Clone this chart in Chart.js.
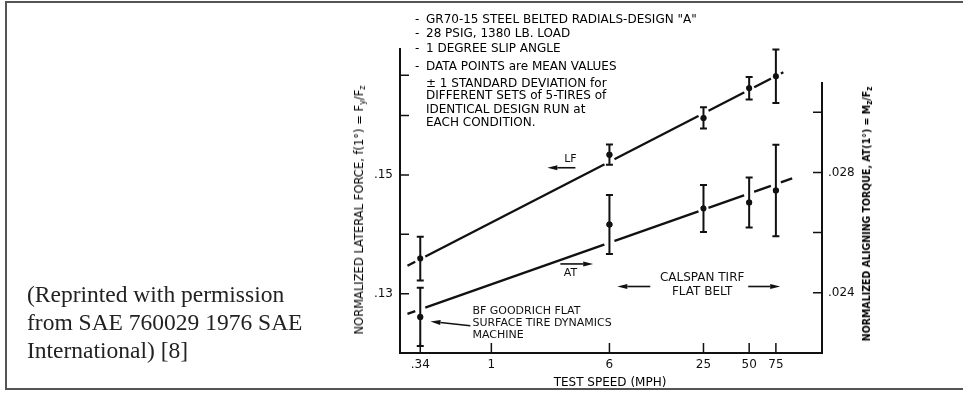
<!DOCTYPE html>
<html>
<head>
<meta charset="utf-8">
<script src="https://cdn.jsdelivr.net/npm/chart.js@4/dist/chart.umd.min.js"></script>
<style>
  html, body { margin: 0; padding: 0; background: #fff; }
  #wrap { position: relative; width: 963px; height: 393px; overflow: hidden; }
  #frame { position: absolute; left: 5px; top: 1px; width: 1000px; height: 389px; border: 2px solid #555; box-sizing: border-box; }
  #chart { position: absolute; left: 0; top: 0; }
  .cap { position: absolute; left: 27px; top: 280px; font-family: "Liberation Serif", "Times New Roman", serif; font-size: 23.5px; line-height: 28px; color: #222; white-space: nowrap; }
  .t { position: absolute; font-family: "DejaVu Sans", sans-serif; font-size: 12px; color: #000; white-space: nowrap; line-height: 12px; }
  .rot { transform-origin: 0 0; transform: rotate(-90deg) translate(-50%, -50%); }
  .t sub { font-size: 8px; vertical-align: -2px; }
</style>
</head>
<body>
<div id="wrap">
  <div id="frame"></div>
  <canvas id="chart" width="963" height="393"></canvas>

  <div class="cap">(Reprinted with permission<br>from SAE 760029 1976 SAE<br>International) [8]</div>

  <!-- notes at top of the plot -->
  <div class="t" style="left:415px; top:13px;">-</div>
  <div class="t" style="left:426px; top:13px;">GR70-15 STEEL BELTED RADIALS-DESIGN "A"</div>
  <div class="t" style="left:415px; top:27px;">-</div>
  <div class="t" style="left:426px; top:27px;">28 PSIG, 1380 LB. LOAD</div>
  <div class="t" style="left:415px; top:42px;">-</div>
  <div class="t" style="left:426px; top:42px;">1 DEGREE SLIP ANGLE</div>
  <div class="t" style="left:415px; top:60px;">-</div>
  <div class="t" style="left:426px; top:60px;">DATA POINTS are MEAN VALUES</div>
  <div class="t" style="left:426px; top:77px;">± 1 STANDARD DEVIATION for</div>
  <div class="t" style="left:426px; top:89px;">DIFFERENT SETS of 5-TIRES of</div>
  <div class="t" style="left:426px; top:103px;">IDENTICAL DESIGN RUN at</div>
  <div class="t" style="left:426px; top:116px;">EACH CONDITION.</div>

  <!-- axis titles -->
  <div class="t rot" style="left:361px; top:210px; font-size:11.5px;">NORMALIZED LATERAL FORCE, f(1°) = F<sub>y</sub>/F<sub>z</sub></div>
  <div class="t rot" style="left:868px; top:214px; font-family:'DejaVu Sans Condensed','DejaVu Sans',sans-serif; font-weight:bold; font-size:10.5px;">NORMALIZED ALIGNING TORQUE, AT(1°) = M<sub>z</sub>/F<sub>z</sub></div>
  <div class="t" style="left:610px; top:376px; transform:translateX(-50%);">TEST SPEED (MPH)</div>
</div>

<script>
// test speeds (MPH)
const speeds = [0.34, 6, 25, 50, 75];
// lateral force f(1°) : mean and 1 standard deviation
const lfMean = [0.1359, 0.1534, 0.1596, 0.1646, 0.1666];
const lfSd = [0.0037, 0.0017, 0.0018, 0.0019, 0.0045];
// aligning torque AT(1°) : mean and 1 standard deviation
const atMean = [0.0232, 0.02627, 0.0268, 0.0270, 0.0274];
const atSd = [0.00097, 0.00098, 0.00078, 0.00083, 0.00152];
// fitted lines (end points)
const lfFitSpeed = [0.28, 84];
const lfFit = [0.1347, 0.1673];
const atFitSpeed = [0.28, 96];
const atFit = [0.0233, 0.0278];
// ticks
const xTicks = [0.34, 1, 6, 25, 50, 75];
const xTickLabels = ['.34', '1', '6', '25', '50', '75'];
const lfTicks = [0.13, 0.14, 0.15, 0.16, 0.1668];
const lfTickLabels = ['.13', '', '.15', '', ''];
const atTicks = [0.024, 0.026, 0.028, 0.030];
const atTickLabels = ['.024', '', '.028', ''];
const atAxisTop = 0.031;

const INK = '#111';
const FONT = '"DejaVu Sans", sans-serif';

// annotations in data units (x: MPH, y: lateral force axis)
const notes = [
    { text: 'LF', x: 3.32, y: 0.1527 },
    { text: 'AT', x: 3.32, y: 0.1334 },
    { text: 'CALSPAN TIRF', x: 24.5, y: 0.1327, size: 12 },
    { text: 'FLAT BELT', x: 24.5, y: 0.1303, size: 12 },
    { text: 'BF GOODRICH FLAT', x: 0.75, y: 0.1271, align: 'left' },
    { text: 'SURFACE TIRE DYNAMICS', x: 0.75, y: 0.1250, align: 'left' },
    { text: 'MACHINE', x: 0.75, y: 0.1230, align: 'left' }
];
const arrows = [
    { x1: 3.58, y1: 0.1512, x2: 2.34, y2: 0.1512 },
    { x1: 2.85, y1: 0.1350, x2: 4.69, y2: 0.1350 },
    { x1: 11.15, y1: 0.1312, x2: 6.76, y2: 0.1312 },
    { x1: 49.3, y1: 0.1312, x2: 80.1, y2: 0.1312 },
    { x1: 0.727, y1: 0.1246, x2: 0.397, y2: 0.1253 }
];

function toPoints(xs, ys) {
    return xs.map((x, i) => ({ x: x, y: ys[i] }));
}

function drawArrow(ctx, x1, y1, x2, y2) {
    const a = Math.atan2(y2 - y1, x2 - x1);
    const hl = 10, hw = 2.5;
    const bx = x2 - Math.cos(a) * hl, by = y2 - Math.sin(a) * hl;
    ctx.beginPath();
    ctx.moveTo(x1, y1);
    ctx.lineTo(bx, by);
    ctx.lineWidth = 1.6;
    ctx.stroke();
    ctx.beginPath();
    ctx.moveTo(x2, y2);
    ctx.lineTo(bx + hw * Math.sin(a), by - hw * Math.cos(a));
    ctx.lineTo(bx - hw * Math.sin(a), by + hw * Math.cos(a));
    ctx.closePath();
    ctx.fill();
}

// y pixel of a fitted line at a given x pixel
function fitY(meta, px) {
    const p0 = meta.data[0], p1 = meta.data[1];
    return p0.y + (p1.y - p0.y) * (px - p0.x) / (p1.x - p0.x);
}

const extras = {
    id: 'extras',
    afterDatasetsDraw(chart) {
        const { ctx, chartArea, scales } = chart;
        const x = scales.x, yL = scales.yL, yR = scales.yR;
        ctx.save();

        // small breaks in the fitted lines at each test speed
        ctx.strokeStyle = '#fff';
        ctx.lineWidth = 5;
        [0, 1].forEach(d => {
            const meta = chart.getDatasetMeta(d);
            speeds.forEach(s => {
                const px = x.getPixelForValue(s);
                ctx.beginPath();
                ctx.moveTo(px - 5, fitY(meta, px - 5));
                ctx.lineTo(px + 5, fitY(meta, px + 5));
                ctx.stroke();
            });
        });

        ctx.strokeStyle = INK;
        ctx.fillStyle = INK;
        ctx.lineCap = 'butt';

        // error bars
        const bars = [[lfMean, lfSd, yL], [atMean, atSd, yR]];
        ctx.lineWidth = 2;
        bars.forEach(([mean, sd, ys]) => {
            speeds.forEach((s, i) => {
                const px = x.getPixelForValue(s);
                const top = ys.getPixelForValue(mean[i] + sd[i]);
                const bot = ys.getPixelForValue(mean[i] - sd[i]);
                ctx.beginPath();
                ctx.moveTo(px, top); ctx.lineTo(px, bot);
                ctx.moveTo(px - 3.5, top); ctx.lineTo(px + 3.5, top);
                ctx.moveTo(px - 3.5, bot); ctx.lineTo(px + 3.5, bot);
                ctx.stroke();
                ctx.beginPath();
                ctx.arc(px, ys.getPixelForValue(mean[i]), 3, 0, Math.PI * 2);
                ctx.fill();
            });
        });

        // inward tick marks
        ctx.lineWidth = 1.5;
        ctx.beginPath();
        xTicks.forEach(v => {
            const px = x.getPixelForValue(v);
            ctx.moveTo(px, chartArea.bottom); ctx.lineTo(px, chartArea.bottom - 10);
        });
        lfTicks.forEach(v => {
            const py = yL.getPixelForValue(v);
            ctx.moveTo(chartArea.left, py); ctx.lineTo(chartArea.left + 9, py);
        });
        atTicks.forEach(v => {
            const py = yR.getPixelForValue(v);
            ctx.moveTo(chartArea.right, py); ctx.lineTo(chartArea.right - 9, py);
        });
        ctx.stroke();

        // right axis line
        ctx.lineWidth = 2;
        ctx.beginPath();
        ctx.moveTo(chartArea.right, yR.getPixelForValue(atAxisTop));
        ctx.lineTo(chartArea.right, chartArea.bottom);
        ctx.stroke();

        // labels and arrows
        ctx.textBaseline = 'middle';
        notes.forEach(n => {
            ctx.font = (n.size || 11) + 'px ' + FONT;
            ctx.textAlign = n.align || 'center';
            ctx.fillText(n.text, x.getPixelForValue(n.x), yL.getPixelForValue(n.y));
        });
        arrows.forEach(a => {
            drawArrow(ctx, x.getPixelForValue(a.x1), yL.getPixelForValue(a.y1),
                x.getPixelForValue(a.x2), yL.getPixelForValue(a.y2));
        });
        ctx.restore();
    }
};

const tickFont = { family: FONT, size: 12 };

new Chart(document.getElementById('chart'), {
    type: 'line',
    data: {
        datasets: [
            { data: toPoints(lfFitSpeed, lfFit), yAxisID: 'yL', borderColor: INK, borderWidth: 2.3, pointRadius: 0 },
            { data: toPoints(atFitSpeed, atFit), yAxisID: 'yR', borderColor: INK, borderWidth: 2.3, pointRadius: 0 },
            { data: toPoints(speeds, lfMean), yAxisID: 'yL', showLine: false, pointRadius: 3, pointBackgroundColor: INK, pointBorderColor: INK, pointBorderWidth: 0 },
            { data: toPoints(speeds, atMean), yAxisID: 'yR', showLine: false, pointRadius: 3, pointBackgroundColor: INK, pointBorderColor: INK, pointBorderWidth: 0 }
        ]
    },
    options: {
        responsive: false,
        animation: false,
        layout: { padding: { left: 340, top: 49, right: 83, bottom: 0 } },
        plugins: { legend: { display: false }, tooltip: { enabled: false } },
        scales: {
            x: {
                type: 'logarithmic',
                position: 'bottom',
                min: 0.25,
                max: 151,
                grid: { display: false, drawTicks: false },
                border: { display: true, color: INK, width: 2 },
                ticks: {
                    font: tickFont, color: INK, padding: 5, maxRotation: 0, autoSkip: false,
                    callback: (v) => { const i = xTicks.indexOf(v); return i >= 0 ? xTickLabels[i] : ''; }
                },
                afterBuildTicks: (s) => { s.ticks = xTicks.map(v => ({ value: v })); },
                afterFit: (s) => { s.height = 40; }
            },
            yL: {
                position: 'left',
                min: 0.12,
                max: 0.1712,
                grid: { display: false, drawTicks: false },
                border: { display: true, color: INK, width: 2 },
                ticks: {
                    font: tickFont, color: INK, padding: 7, autoSkip: false,
                    callback: (v) => { const i = lfTicks.indexOf(v); return i >= 0 ? lfTickLabels[i] : ''; }
                },
                afterBuildTicks: (s) => { s.ticks = lfTicks.map(v => ({ value: v })); },
                afterFit: (s) => { s.width = 60; }
            },
            yR: {
                position: 'right',
                min: 0.022,
                max: 0.0321,
                grid: { display: false, drawTicks: false },
                border: { display: false },
                ticks: {
                    font: tickFont, color: INK, padding: 6, autoSkip: false,
                    callback: (v) => { const i = atTicks.indexOf(v); return i >= 0 ? atTickLabels[i] : ''; }
                },
                afterBuildTicks: (s) => { s.ticks = atTicks.map(v => ({ value: v })); },
                afterFit: (s) => { s.width = 58; }
            }
        }
    },
    plugins: [extras]
});
</script>
</body>
</html>
